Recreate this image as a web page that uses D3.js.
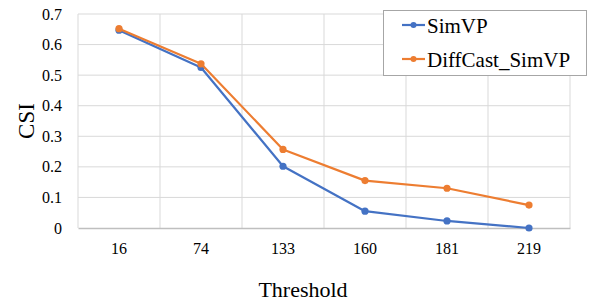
<!DOCTYPE html>
<html>
<head>
<meta charset="utf-8">
<script src="https://cdn.jsdelivr.net/npm/d3@7"></script>
<style>
  body { margin: 0; background: #fff; }
  svg text { font-family: "Liberation Serif", "Times New Roman", serif !important; fill: #000; }
</style>
</head>
<body>
<div id="chart"></div>
<script>
// chart data
const thresholds = ["16", "74", "133", "160", "181", "219"];
const simvp = [0.647, 0.525, 0.202, 0.055, 0.023, 0.0];
const diffcast = [0.652, 0.537, 0.257, 0.155, 0.13, 0.075];
const yTicks = [0, 0.1, 0.2, 0.3, 0.4, 0.5, 0.6, 0.7];
const seriesNames = ["SimVP", "DiffCast_SimVP"];
const seriesColors = ["#4472C4", "#ED7D31"];

const serif = '"Liberation Serif", "Times New Roman", serif';
const width = 598, height = 302;
const margin = {top: 14, right: 28, bottom: 74, left: 78};

const svg = d3.select("#chart")
    .append("svg")
    .attr("width", width)
    .attr("height", height);

// scales
let xScale = d3.scaleBand()
    .domain(thresholds)
    .range([margin.left, width - margin.right]);

let yScale = d3.scaleLinear()
    .domain([0, 0.7])
    .range([height - margin.bottom, margin.top]);

// horizontal gridlines
svg.append("g")
    .selectAll("line")
    .data(yTicks.slice(1))
    .enter()
    .append("line")
      .attr("x1", margin.left)
      .attr("x2", width - margin.right)
      .attr("y1", d => yScale(d))
      .attr("y2", d => yScale(d))
      .attr("stroke", "#d9d9d9");

// vertical gridlines at category boundaries
svg.append("g")
    .selectAll("line")
    .data(thresholds)
    .enter()
    .append("line")
      .attr("x1", d => xScale(d) + xScale.bandwidth())
      .attr("x2", d => xScale(d) + xScale.bandwidth())
      .attr("y1", margin.top)
      .attr("y2", height - margin.bottom)
      .attr("stroke", "#d9d9d9");

// left border of the plot
svg.append("line")
    .attr("x1", margin.left).attr("x2", margin.left)
    .attr("y1", margin.top).attr("y2", height - margin.bottom)
    .attr("stroke", "#d9d9d9");

// y axis labels
svg.append("g")
    .attr("transform", `translate(${margin.left}, 0)`)
    .call(d3.axisLeft(yScale).tickValues(yTicks).tickSize(0).tickPadding(16)
          .tickFormat(d => d === 0 ? "0" : d3.format(".1f")(d)))
    .call(g => g.select(".domain").remove())
    .call(g => g.selectAll("text").style("font-family", serif).style("font-size", "16px"));

// x axis
svg.append("g")
    .attr("transform", `translate(0, ${height - margin.bottom})`)
    .call(d3.axisBottom(xScale).tickSize(0).tickPadding(15))
    .call(g => g.select(".domain").attr("stroke", "#bfbfbf").attr("stroke-width", 1.5))
    .call(g => g.selectAll("text").style("font-family", serif).style("font-size", "16px"));

// axis titles
svg.append("text")
    .attr("transform", "translate(34, 121) rotate(-90)")
    .attr("text-anchor", "middle")
    .style("font-size", "23px")
    .text("CSI");

svg.append("text")
    .attr("x", 303)
    .attr("y", 297)
    .attr("text-anchor", "middle")
    .style("font-size", "22px")
    .text("Threshold");

// series lines and points
const allSeries = [simvp, diffcast];
const line = d3.line()
    .x((d, i) => xScale(thresholds[i]) + xScale.bandwidth() / 2)
    .y(d => yScale(d));

allSeries.forEach((vals, k) => {
  svg.append("path")
      .datum(vals)
      .attr("d", line)
      .attr("fill", "none")
      .attr("stroke", seriesColors[k])
      .attr("stroke-width", 2.2)
      .attr("stroke-linejoin", "round");

  svg.selectAll(".pt" + k)
      .data(vals)
      .enter()
      .append("circle")
        .attr("class", "pt" + k)
        .attr("cx", (d, i) => xScale(thresholds[i]) + xScale.bandwidth() / 2)
        .attr("cy", d => yScale(d))
        .attr("r", 3.6)
        .attr("fill", seriesColors[k]);
});

// legend
const legend = svg.append("g");
legend.append("rect")
    .attr("x", 383.5).attr("y", 10.5)
    .attr("width", 203).attr("height", 65)
    .attr("fill", "#fff")
    .attr("stroke", "#a6a6a6");

seriesNames.forEach((name, k) => {
  const cy = 25 + k * 34;
  legend.append("line")
      .attr("x1", 402).attr("x2", 425)
      .attr("y1", cy).attr("y2", cy)
      .attr("stroke", seriesColors[k])
      .attr("stroke-width", 2.2);
  legend.append("circle")
      .attr("cx", 413.5).attr("cy", cy).attr("r", 3)
      .attr("fill", seriesColors[k]);
  legend.append("text")
      .attr("x", 427)
      .attr("y", cy + 7.5)
      .style("font-size", "21px")
      .text(name);
});
</script>
</body>
</html>
